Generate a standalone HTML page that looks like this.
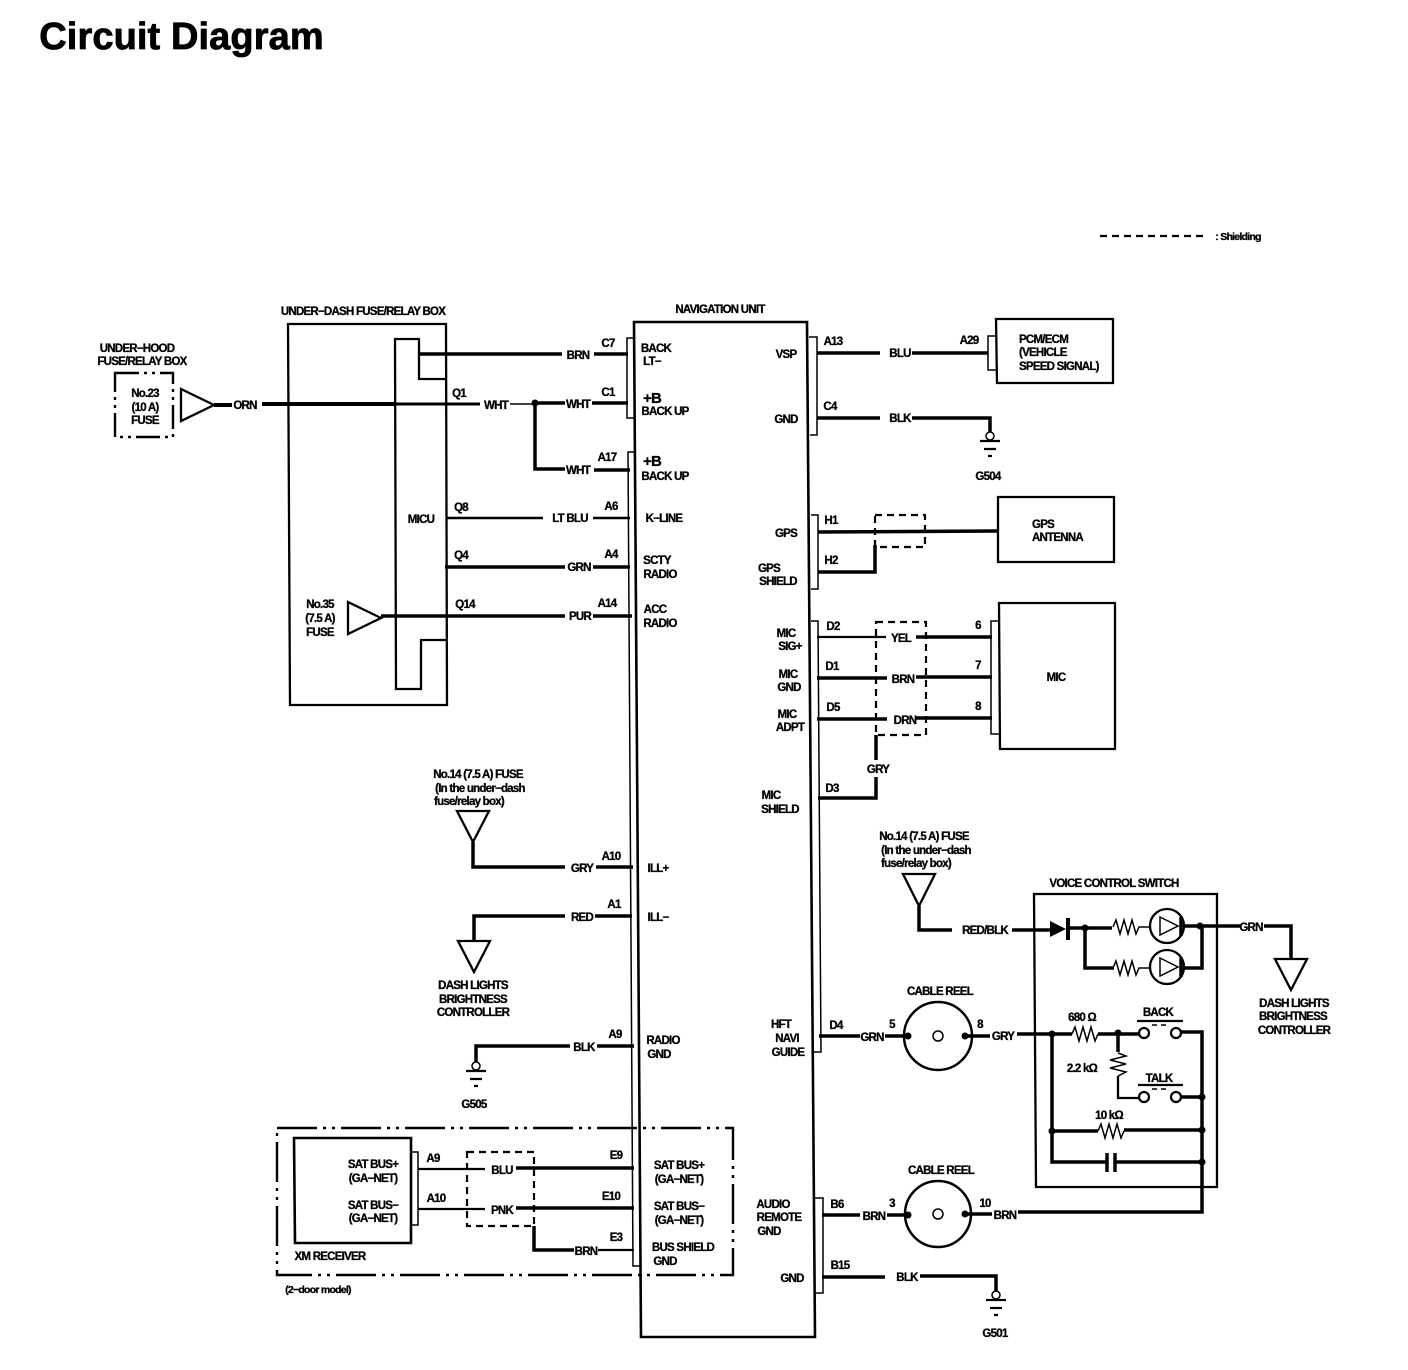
<!DOCTYPE html>
<html><head><meta charset="utf-8"><style>
html,body{margin:0;padding:0;background:#fff}
svg{display:block}
text{font-family:"Liberation Sans","DejaVu Sans",sans-serif;font-weight:bold;font-size:11.5px;text-anchor:middle;letter-spacing:-.75px;fill:#000;stroke:#000;stroke-width:.3}
text.s{font-size:10.5px}
.t{stroke:#000;stroke-width:3.5;fill:none;stroke-linejoin:miter}
.m{stroke:#000;stroke-width:2.3;fill:none}
.h{stroke:#000;stroke-width:1.5;fill:none}
.d{stroke:#000;stroke-width:2.2;fill:none;stroke-dasharray:7 5}
.dd{stroke:#000;stroke-width:2.4;fill:none;stroke-dasharray:24 5 3 5 3 5}
.dx{stroke:#000;stroke-width:2.4;fill:none;stroke-dasharray:40 6 3 6 3 6}
</style></head><body>
<svg width="1408" height="1370" viewBox="0 0 1408 1370" xmlns="http://www.w3.org/2000/svg">
<text x="181.500" y="49" style="font-size:38px;letter-spacing:.1px;stroke-width:.8">Circuit Diagram</text>
<path class="d" d="M1100 236H1205"/><text x="1238" y="240" class="s">: Shielding</text>

<!-- nav unit -->
<path class="m" d="M634 322H807L815 1337H641Z" style="stroke-width:2.6"/>
<path class="h" d="M634 338H627V418H634M634 452H628L633 1266H641"/>
<path class="h" d="M809 337H817V435H810M811 515H818V589H811M811 621H818L821 1052H813M815 1198H823V1293H816"/>

<!-- under-dash box -->
<path class="m" d="M288 324H446L447 705H290Z"/>
<path class="m" d="M447 379H419V339H395L396 689H421V640H447"/>
<text x="363" y="315">UNDER−DASH FUSE/RELAY BOX</text>
<text x="421" y="523">MICU</text>
<text x="137" y="352">UNDER−HOOD</text><text x="142" y="365">FUSE/RELAY BOX</text>
<path class="dd" d="M115 373H173V437H115Z"/>
<text x="145" y="397">No.23</text><text x="145" y="411">(10 A)</text><text x="145" y="424">FUSE</text>
<path class="m" d="M181 389L214 405L181 421Z"/>
<path class="t" d="M214 405H232M262 404H395" style="stroke-width:4"/><path class="t" d="M395 404H480" style="stroke-width:3"/>
<text x="245" y="409">ORN</text><text x="459" y="397">Q1</text><text x="496" y="409">WHT</text>
<path class="h" d="M510 404H535"/><circle cx="535" cy="403" r="3.5"/>
<path class="t" d="M535 403H565M592 403H628M535 403V469H565M594 470H630M418 354H562M594 354H628"/>
<text x="578" y="359">BRN</text><text x="578" y="408">WHT</text><text x="578" y="474">WHT</text>
<text x="608" y="347">C7</text><text x="608" y="396">C1</text><text x="607" y="461">A17</text>
<path class="m" d="M447 518H543M593 518H630" style="stroke-width:2.6"/>
<text x="570" y="522">LT BLU</text><text x="461" y="511">Q8</text><text x="611" y="510">A6</text>
<path class="t" d="M445 567H565M593 567H630"/>
<text x="579" y="571">GRN</text><text x="461" y="559">Q4</text><text x="611" y="558">A4</text>
<path class="m" d="M348 602L381 618L348 634Z"/>
<path class="t" d="M381 616H565M593 616H632"/>
<text x="580" y="620">PUR</text><text x="465" y="608">Q14</text><text x="607" y="607">A14</text>
<text x="320" y="608">No.35</text><text x="320" y="622">(7.5 A)</text><text x="320" y="636">FUSE</text>

<!-- nav left labels -->
<text x="656" y="352">BACK</text><text x="652" y="365">LT−</text>
<text x="652" y="403" style="font-size:15px">+B</text><text x="665" y="415">BACK UP</text>
<text x="652" y="466" style="font-size:15px">+B</text><text x="665" y="480">BACK UP</text>
<text x="664" y="522">K−LINE</text><text x="657" y="564">SCTY</text><text x="660" y="578">RADIO</text>
<text x="655" y="613">ACC</text><text x="660" y="627">RADIO</text>
<text x="658" y="872">ILL+</text><text x="658" y="921">ILL−</text>
<text x="663" y="1044">RADIO</text><text x="659" y="1058">GND</text>

<!-- nav right labels -->
<text x="786" y="358">VSP</text><text x="786" y="423">GND</text><text x="786" y="537">GPS</text>
<text x="769" y="572">GPS</text><text x="778" y="585">SHIELD</text>
<text x="786" y="637">MIC</text><text x="790" y="650">SIG+</text>
<text x="788" y="678">MIC</text><text x="789" y="691">GND</text>
<text x="787" y="718">MIC</text><text x="790" y="731">ADPT</text>
<text x="771" y="799">MIC</text><text x="780" y="813">SHIELD</text>
<text x="781" y="1028">HFT</text><text x="787" y="1042">NAVI</text><text x="788" y="1056">GUIDE</text>
<text x="773" y="1208">AUDIO</text><text x="779" y="1221">REMOTE</text><text x="769" y="1235">GND</text>
<text x="792" y="1282">GND</text>
<text x="720" y="313">NAVIGATION UNIT</text>

<!-- VSP -->
<path class="t" d="M817 353H880M912 353H988"/>
<text x="900" y="357">BLU</text><text x="833" y="345">A13</text><text x="969" y="344">A29</text>
<path class="h" d="M996 336H988V370H996"/>
<path class="m" d="M996 319H1113V383H997Z"/>
<text x="1019" y="343" style="text-anchor:start">PCM/ECM</text><text x="1019" y="356" style="text-anchor:start">(VEHICLE</text><text x="1019" y="370" style="text-anchor:start">SPEED SIGNAL)</text>

<!-- GND C4 -->
<path class="t" d="M817 418H880M912 418H990V432"/>
<text x="900" y="422">BLK</text><text x="830" y="410">C4</text>
<circle class="h" cx="990" cy="436" r="4"/><path class="m" d="M980 441H1000M984 449H996M988 456H992"/>
<text x="988" y="480">G504</text>

<!-- GPS -->
<path class="t" d="M818 532L998 531M818 572H875V545"/>
<path class="d" d="M875 515H925V547H875Z"/>
<text x="831" y="524">H1</text><text x="831" y="564">H2</text>
<path class="m" d="M998 497H1114V562H998Z"/>
<text x="1032" y="528" style="text-anchor:start">GPS</text><text x="1032" y="541" style="text-anchor:start">ANTENNA</text>

<!-- MIC -->
<path class="m" d="M817 637H886"/><path class="t" d="M916 637H992"/>
<path class="t" d="M817 678H887M916 677H992M817 719H887M916 718H992"/>
<text x="901" y="642">YEL</text><text x="903" y="683">BRN</text><text x="905" y="724">DRN</text>
<text x="833" y="630">D2</text><text x="832" y="670">D1</text><text x="833" y="711">D5</text>
<text x="978" y="629">6</text><text x="978" y="669">7</text><text x="978" y="710">8</text>
<path class="d" d="M876 622H926V735H876Z"/>
<path class="h" d="M999 621H991V734H999"/>
<path class="m" d="M999 603H1115V749H1000Z"/>
<text x="1056" y="681">MIC</text>
<path class="t" d="M876 735V760M876 777V798H818"/>
<text x="878" y="773">GRY</text><text x="832" y="792">D3</text>

<!-- fuse 14 right -->
<text x="924" y="840">No.14 (7.5 A) FUSE</text><text x="926" y="854">(In the under−dash</text><text x="916" y="867">fuse/relay box)</text>
<path class="m" d="M903 874H935L919 906Z"/>
<path class="t" d="M919 906V930H952M1012 930H1050"/>
<text x="985" y="934">RED/BLK</text>

<!-- voice control -->
<text x="1114" y="887">VOICE CONTROL SWITCH</text>
<path class="m" d="M1034 894H1217V1187H1036Z"/>
<path d="M1050 921L1066 929L1050 937Z"/><path class="t" d="M1068 918V940" style="stroke-width:4"/>
<path class="t" d="M1066 928H1112M1184 926H1240M1085 928V968H1114M1202 926V968H1184"/>
<circle cx="1085" cy="928" r="3.5"/><circle cx="1200" cy="926" r="3.5"/>
<path class="h" d="M1113 927l3-7 4 14 4-14 4 14 4-14 4 14 3-7H1150"/>
<path class="h" d="M1113 968l3-7 4 14 4-14 4 14 4-14 4 14 3-7H1150"/>
<circle class="m" cx="1167" cy="926" r="17"/><circle class="m" cx="1167" cy="967" r="17"/>
<path class="h" d="M1160 917L1178 926L1160 935ZM1160 958L1178 967L1160 976Z"/>
<path class="t" d="M1181 917V936M1181 958V977"/>
<text x="1251" y="931">GRN</text>
<path class="t" d="M1264 926H1291V959"/>
<path class="m" d="M1275 959H1307L1291 990Z"/>
<text x="1294" y="1007">DASH LIGHTS</text><text x="1293" y="1020">BRIGHTNESS</text><text x="1294" y="1034">CONTROLLER</text>

<text x="1003" y="1040">GRY</text>
<path class="t" d="M1017 1034H1072M1098 1034H1139M1118 1034V1052M1181 1032H1202V1212H1018M1181 1097H1202"/>
<path class="m" d="M1118 1076V1098H1139"/>
<circle cx="1052" cy="1034" r="3.5"/><circle cx="1118" cy="1033" r="3.5"/>
<path class="h" d="M1072 1034l3-7 4 14 4-14 4 14 4-14 4 14 3-7"/>
<path class="h" d="M1118 1053l8 3-16 4 16 4-16 4 16 4-8 4"/>
<text x="1082" y="1021">680 Ω</text><text x="1082" y="1072">2.2 kΩ</text>
<text x="1158" y="1016">BACK</text><path class="m" d="M1137 1021H1183M1138 1085H1183"/>
<text x="1159" y="1082">TALK</text>
<circle class="m" cx="1144" cy="1033" r="5" style="fill:#fff"/><circle class="m" cx="1176" cy="1033" r="5" style="fill:#fff"/>
<circle class="m" cx="1144" cy="1097" r="5" style="fill:#fff"/><circle class="m" cx="1176" cy="1097" r="5" style="fill:#fff"/>
<path class="h" d="M1152 1025H1168M1152 1089H1168" stroke-dasharray="5 4"/>
<path class="t" d="M1052 1034V1162H1106M1052 1131H1098M1124 1130H1202M1116 1162H1202"/>
<path class="h" d="M1098 1131l3-7 4 14 4-14 4 14 4-14 4 14 3-7"/>
<text x="1109" y="1119">10 kΩ</text>
<path class="t" d="M1107 1153V1172M1115 1153V1172"/>
<circle cx="1052" cy="1131" r="3.5"/><circle cx="1202" cy="1097" r="3.5"/><circle cx="1202" cy="1130" r="3.5"/><circle cx="1202" cy="1162" r="3.5"/>

<!-- cable reels -->
<text x="940" y="995">CABLE REEL</text>
<circle class="m" cx="938" cy="1036" r="34" style="stroke-width:2.5"/><circle class="h" cx="938" cy="1036" r="5"/>
<path class="t" d="M819 1036H860M885 1036H908M965 1036H990"/>
<circle cx="908" cy="1036" r="3.5"/><circle cx="965" cy="1036" r="3.5"/>
<text x="836" y="1029">D4</text><text x="872" y="1041">GRN</text><text x="892" y="1028">5</text><text x="980" y="1028">8</text>

<text x="941" y="1174">CABLE REEL</text>
<circle class="m" cx="938" cy="1214" r="33" style="stroke-width:2.5"/><circle class="h" cx="938" cy="1214" r="5"/>
<path class="t" d="M822 1215H860M887 1215H908M965 1214H992"/>
<circle cx="908" cy="1215" r="3.5"/><circle cx="965" cy="1214" r="3.5"/>
<text x="837" y="1208">B6</text><text x="874" y="1220">BRN</text><text x="892" y="1207">3</text><text x="985" y="1207">10</text><text x="1005" y="1219">BRN</text>

<path class="t" d="M822 1277H885M920 1276H996V1291"/>
<text x="840" y="1269">B15</text><text x="907" y="1281">BLK</text>
<circle class="h" cx="996" cy="1295" r="4"/><path class="m" d="M986 1300H1006M990 1308H1002M994 1315H998"/>
<text x="995" y="1337">G501</text>

<!-- left lower -->
<text x="478" y="778">No.14 (7.5 A) FUSE</text><text x="480" y="792">(In the under−dash</text><text x="469" y="805">fuse/relay box)</text>
<path class="m" d="M457 811H489L473 842Z"/>
<path class="t" d="M473 842V867H565M596 867H633"/>
<text x="582" y="872">GRY</text><text x="611" y="860">A10</text>

<path class="t" d="M632 916H595M565 916H474V941"/>
<path class="m" d="M458 941H490L474 972Z"/>
<text x="582" y="921">RED</text><text x="614" y="908">A1</text>
<text x="473" y="989">DASH LIGHTS</text><text x="473" y="1003">BRIGHTNESS</text><text x="473" y="1016">CONTROLLER</text>

<path class="t" d="M634 1046H597M570 1046H476V1062"/>
<text x="584" y="1051">BLK</text><text x="615" y="1038">A9</text>
<circle class="h" cx="476" cy="1066" r="4"/><path class="m" d="M466 1071H486M470 1079H482M474 1086H478"/>
<text x="474" y="1108">G505</text>

<!-- XM -->
<path class="dx" d="M277 1128H733V1275H277Z"/>
<path class="t" d="M294 1138H411V1243H295Z" style="stroke-width:2.6"/>
<path class="h" d="M411 1152H418V1225H411"/>
<text x="373" y="1168">SAT BUS+</text><text x="373" y="1182">(GA−NET)</text>
<text x="373" y="1209">SAT BUS−</text><text x="373" y="1222">(GA−NET)</text>
<text x="330" y="1260">XM RECEIVER</text>
<text x="318" y="1293" class="s">(2−door model)</text>
<path class="m" d="M418 1169H485M418 1209H485"/>
<path class="t" d="M516 1168H634M516 1208H634M534 1226V1250H574"/>
<path class="m" d="M598 1250H634"/>
<path class="d" d="M467 1152H534V1226H467Z"/>
<text x="502" y="1174">BLU</text><text x="502" y="1214">PNK</text><text x="586" y="1255">BRN</text>
<text x="433" y="1162">A9</text><text x="436" y="1202">A10</text>
<text x="616" y="1159">E9</text><text x="611" y="1200">E10</text><text x="616" y="1241">E3</text>
<text x="679" y="1169">SAT BUS+</text><text x="679" y="1183">(GA−NET)</text>
<text x="679" y="1210">SAT BUS−</text><text x="679" y="1224">(GA−NET)</text>
<text x="683" y="1251">BUS SHIELD</text><text x="665" y="1265">GND</text>
</svg>
</body></html>
